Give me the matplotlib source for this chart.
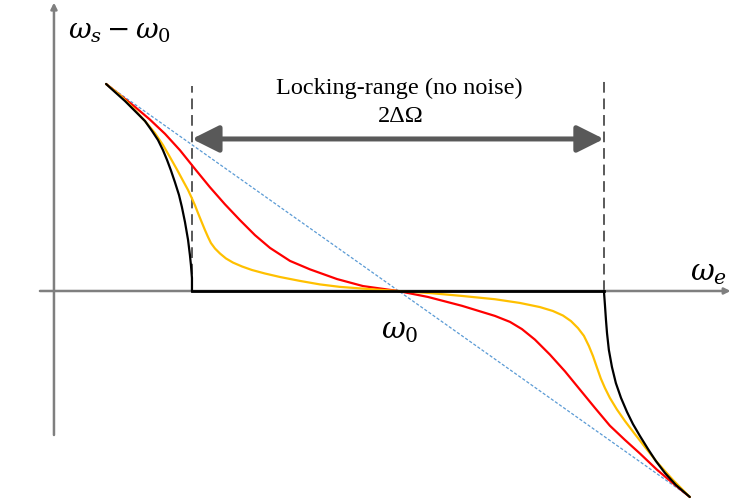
import matplotlib
matplotlib.use("Agg")
import matplotlib.pyplot as plt

plt.rcParams["mathtext.fontset"] = "dejavuserif"

# Detuning (omega_e - omega_0) and beat frequency (omega_s - omega_0),
# both in units of the half locking range DeltaOmega.

# Ideal locking (no noise)
black_left_x = [-1.417, -1.374, -1.325, -1.277, -1.228, -1.194, -1.165, -1.141, -1.121,
                -1.102, -1.083, -1.063, -1.049, -1.034, -1.019, -1.010, -1.005, -1.000, -1.000]
black_left_y = [1.005, 0.966, 0.922, 0.874, 0.825, 0.777, 0.733, 0.684, 0.636,
                0.585, 0.529, 0.466, 0.408, 0.335, 0.248, 0.175, 0.126, 0.063, 0.000]
black_mid_x = [-1.000, 1.000]
black_mid_y = [0.000, 0.000]
black_right_x = [1.000, 1.005, 1.010, 1.015, 1.024, 1.039, 1.058, 1.083, 1.112, 1.141,
                 1.175, 1.214, 1.252, 1.296, 1.350, 1.417]
black_right_y = [0.000, -0.068, -0.141, -0.204, -0.286, -0.369, -0.447, -0.519, -0.587, -0.646,
                 -0.704, -0.767, -0.825, -0.883, -0.942, -1.000]

# Weak noise
yellow_x = [-1.417, -1.350, -1.286, -1.228, -1.180, -1.141, -1.107, -1.073, -1.044, -1.019,
            -1.000, -0.985, -0.971, -0.951, -0.937, -0.922, -0.908, -0.888, -0.864, -0.835,
            -0.801, -0.757, -0.709, -0.646, -0.573, -0.476, -0.379, -0.282, -0.136, 0.000,
            0.155, 0.311, 0.471, 0.592, 0.689, 0.752, 0.801, 0.840, 0.874, 0.903,
            0.927, 0.947, 0.966, 0.985, 1.005, 1.029, 1.063, 1.102, 1.146, 1.199,
            1.257, 1.335, 1.417]
yellow_y = [1.005, 0.951, 0.888, 0.825, 0.767, 0.709, 0.650, 0.590, 0.536, 0.490,
            0.449, 0.415, 0.379, 0.330, 0.296, 0.262, 0.233, 0.206, 0.182, 0.158,
            0.138, 0.119, 0.102, 0.085, 0.068, 0.049, 0.032, 0.020, 0.009, 0.000,
            -0.010, -0.024, -0.040, -0.058, -0.078, -0.097, -0.119, -0.146, -0.180, -0.218,
            -0.267, -0.316, -0.371, -0.425, -0.471, -0.519, -0.575, -0.631, -0.689, -0.757,
            -0.830, -0.917, -1.000]

# Strong noise
red_x = [-1.417, -1.350, -1.277, -1.204, -1.131, -1.058, -0.985, -0.913, -0.840, -0.767,
         -0.694, -0.621, -0.524, -0.427, -0.296, -0.170, 0.000,
         0.146, 0.311, 0.471, 0.544, 0.602, 0.665, 0.738, 0.811, 0.883, 0.956,
         1.029, 1.102, 1.175, 1.257, 1.335, 1.417]
red_y = [1.005, 0.952, 0.894, 0.832, 0.763, 0.683, 0.592, 0.504, 0.421, 0.344,
         0.271, 0.209, 0.146, 0.105, 0.058, 0.024, 0.000,
         -0.029, -0.072, -0.121, -0.150, -0.185, -0.236, -0.309, -0.390, -0.478, -0.567,
         -0.654, -0.723, -0.789, -0.867, -0.933, -1.000]

# Free-running asymptote
free_x = [-1.417, 1.417]
free_y = [1.005, -1.000]

locking_edges = [-1.0, 1.0]
locking_edge_tops = [0.995, 1.024]

fig = plt.figure(figsize=(7.31, 5.00), dpi=100)
ax = fig.add_axes([0, 0, 1, 1])
ax.set_xlim(-1.932, 1.617)
ax.set_ylim(-1.0146, 1.4126)
ax.axis("off")

axis_grey = "#7f7f7f"
dark_grey = "#595959"

# coordinate axes with arrow heads
ax.annotate("", xy=(1.615, 0.0), xytext=(-1.738, 0.0),
            arrowprops=dict(arrowstyle="-|>", color=axis_grey, lw=1.8,
                            mutation_scale=9, shrinkA=0, shrinkB=0))
ax.annotate("", xy=(-1.670, 1.400), xytext=(-1.670, -0.699),
            arrowprops=dict(arrowstyle="-|>", color=axis_grey, lw=1.8,
                            mutation_scale=9, shrinkA=0, shrinkB=0))

# locking range edges
for xe, top in zip(locking_edges, locking_edge_tops):
    ax.plot([xe, xe], [0.0, top], color=dark_grey, lw=1.4, ls=(0, (5.5, 3)), zorder=2)

curve_kw = dict(lw=1.6, solid_joinstyle="round", solid_capstyle="round")
ax.plot(free_x, free_y, color="#5B9BD5", lw=0.9, ls=(0, (2.5, 1.5)), zorder=3)
ax.plot(red_x, red_y, color="#FF0000", zorder=4, **curve_kw)
ax.plot(yellow_x, yellow_y, color="#FFC000", zorder=5, **curve_kw)
ax.plot(black_left_x, black_left_y, color="black", zorder=6, **curve_kw)
ax.plot(black_mid_x, black_mid_y, color="black", lw=2.0, zorder=6)
ax.plot(black_right_x, black_right_y, color="black", zorder=6, **curve_kw)

# locking range arrow
ax.annotate("", xy=(locking_edges[1], 0.738), xytext=(locking_edges[0], 0.738),
            arrowprops=dict(arrowstyle="<|-|>,head_length=0.9,head_width=0.45",
                            color=dark_grey, lw=3.6, mutation_scale=18,
                            shrinkA=0, shrinkB=0))

ax.text(0.007, 0.985, "Locking-range (no noise)", family="Liberation Serif",
        fontsize=17.5, ha="center", va="center")
ax.text(0.015, 0.845, "2ΔΩ", family="Liberation Serif",
        fontsize=17.5, ha="center", va="center")

ax.text(-1.602, 1.262, r"$\omega_s - \omega_0$", fontsize=20, ha="left", va="center")
ax.text(1.417, 0.085, r"$\omega_e$", fontsize=21, ha="left", va="center")
ax.text(0.01, -0.195, r"$\omega_0$", fontsize=21, ha="center", va="center")

fig.savefig("out.png", dpi=100)
